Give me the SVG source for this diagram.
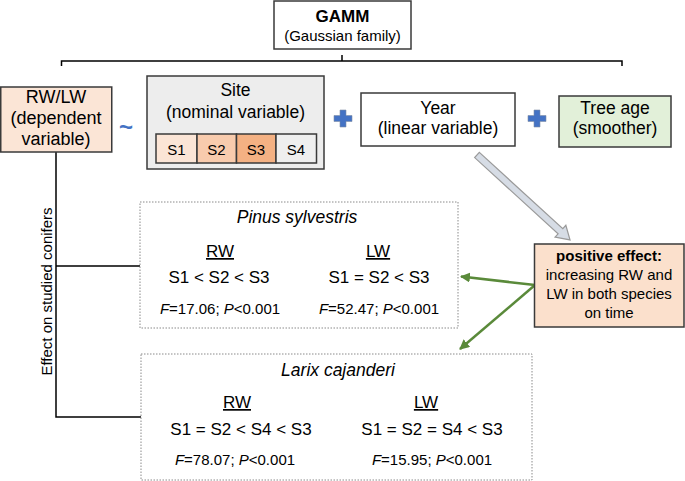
<svg xmlns="http://www.w3.org/2000/svg" width="685" height="481" viewBox="0 0 685 481">
<defs>
<style>
text{font-family:"Liberation Sans",Arial,sans-serif;fill:#000;text-anchor:middle}
.box{stroke:#3a3a3a;stroke-width:1.5}
.dot{fill:#fff;stroke:#8a8a8a;stroke-width:1;stroke-dasharray:1.5 1.5}
.ln{fill:none;stroke:#000;stroke-width:1.5}
.g{fill:none;stroke:#5a8a3a;stroke-width:2.5}
.plus{fill:#4472c4;stroke:#7f8fa6;stroke-width:0.6}
.t17{font-size:17.5px}
.t15{font-size:15px}
.it{font-style:italic}
</style>
<marker id="ga" viewBox="0 0 10 10" refX="9" refY="5" markerWidth="4" markerHeight="4" orient="auto" markerUnits="strokeWidth">
<path d="M0,0 L10,5 L0,10 Z" fill="#5a8a3a"/>
</marker>
</defs>

<g id="connectors">
<path class="ln" d="M61.5,66 V61 H622 V66 M342,55 V61"/>
<path class="ln" d="M56,152 V417 H141 M56,266 H140"/>
<path class="g" d="M535,285 L461,276.5" marker-end="url(#ga)"/>
<path class="g" d="M535,285 L460,349" marker-end="url(#ga)"/>
<polygon transform="translate(477,155) rotate(42.4)" points="0,-3.5 113,-3.5 113,-8 126,0 113,8 113,3.5 0,3.5" fill="#d6dce5" stroke="#9a9a9a" stroke-width="1.2"/>
</g>

<g id="gamm">
<rect class="box" x="274" y="1" width="137" height="48" fill="#fff"/>
<text x="342.5" y="22" font-size="17px" font-weight="bold">GAMM</text>
<text x="342.5" y="41" class="t15">(Gaussian family)</text>
</g>

<g id="rwlw">
<rect class="box" x="0.75" y="87" width="111" height="65" fill="#fbe5d6"/>
<text x="56" y="103" font-size="18px">RW/LW</text>
<text x="56" y="124" font-size="18px">(dependent</text>
<text x="56" y="145" font-size="18px">variable)</text>
</g>

<g id="tilde">
<text x="126" y="135" font-size="24px" font-weight="bold" style="fill:#4472c4">~</text>
</g>

<g id="site">
<rect class="box" x="147" y="76" width="177" height="93" fill="#ededed"/>
<text x="235.5" y="96" class="t17">Site</text>
<text x="235.5" y="118" class="t17">(nominal variable)</text>
<rect class="box" x="156" y="134" width="41" height="29" fill="#fbe5d6"/>
<rect class="box" x="197" y="134" width="39.5" height="29" fill="#f8cbad"/>
<rect class="box" x="236.5" y="134" width="39.5" height="29" fill="#f4b183"/>
<rect class="box" x="276" y="134" width="40.5" height="29" fill="#efefef"/>
<text x="176.5" y="155" class="t15">S1</text>
<text x="216.5" y="155" class="t15">S2</text>
<text x="256" y="155" class="t15">S3</text>
<text x="296" y="155" class="t15">S4</text>
</g>

<g id="plus1">
<path class="plus" d="M340,110 h6 v5.5 h6 v6 h-6 v5.5 h-6 v-5.5 h-6 v-6 h6 Z"/>
</g>

<g id="year">
<rect class="box" x="361" y="93" width="154" height="53" fill="#fff"/>
<text x="438" y="114" class="t17">Year</text>
<text x="438" y="134" class="t17">(linear variable)</text>
</g>

<g id="plus2">
<path class="plus" d="M534,110 h6 v5.5 h6 v6 h-6 v5.5 h-6 v-5.5 h-6 v-6 h6 Z"/>
</g>

<g id="treeage">
<rect class="box" x="559" y="96" width="112" height="51" fill="#e2f0d9"/>
<text x="615" y="114" class="t17">Tree age</text>
<text x="615" y="134" class="t17">(smoother)</text>
</g>

<g id="effect-label">
<text transform="translate(52,291.5) rotate(-90)" class="t15">Effect on studied conifers</text>
</g>

<g id="pinus">
<rect class="dot" x="140" y="202" width="318" height="126"/>
<text x="297" y="223" class="t17 it">Pinus sylvestris</text>
<text x="220" y="257" font-size="17px" text-decoration="underline">RW</text>
<text x="378" y="257" font-size="17px" text-decoration="underline">LW</text>
<text x="219" y="283" font-size="17px">S1 &lt; S2 &lt; S3</text>
<text x="379" y="283" font-size="17px">S1 = S2 &lt; S3</text>
<text x="220" y="314" class="t15"><tspan class="it">F</tspan>=17.06; <tspan class="it">P</tspan>&lt;0.001</text>
<text x="379" y="314" class="t15"><tspan class="it">F</tspan>=52.47; <tspan class="it">P</tspan>&lt;0.001</text>
</g>

<g id="positive">
<rect class="box" x="534.5" y="244" width="149.5" height="83" fill="#fbe0cc"/>
<text x="609" y="261" class="t15" font-weight="bold">positive effect:</text>
<text x="609" y="280" class="t15">increasing RW and</text>
<text x="609" y="299" class="t15">LW in both species</text>
<text x="609" y="318" class="t15">on time</text>
</g>

<g id="larix">
<rect class="dot" x="141" y="354" width="391" height="126"/>
<text x="338" y="376" class="t17 it">Larix cajanderi</text>
<text x="237" y="408" font-size="17px" text-decoration="underline">RW</text>
<text x="426" y="408" font-size="17px" text-decoration="underline">LW</text>
<text x="241" y="435" font-size="17px">S1 = S2 &lt; S4 &lt; S3</text>
<text x="432" y="435" font-size="17px">S1 = S2 = S4 &lt; S3</text>
<text x="235" y="465" class="t15"><tspan class="it">F</tspan>=78.07; <tspan class="it">P</tspan>&lt;0.001</text>
<text x="432" y="465" class="t15"><tspan class="it">F</tspan>=15.95; <tspan class="it">P</tspan>&lt;0.001</text>
</g>
</svg>
